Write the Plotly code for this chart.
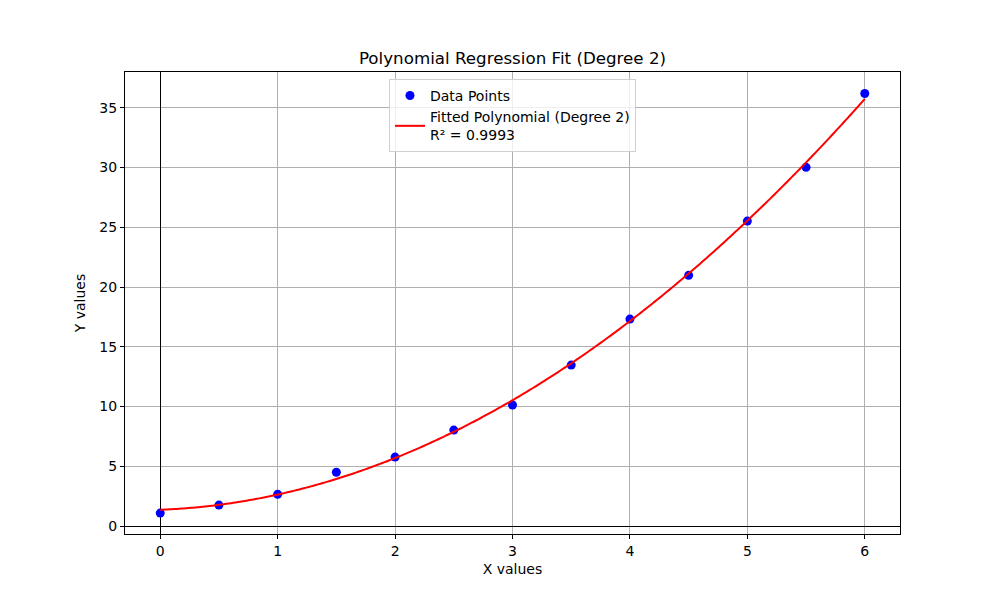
import numpy as np
import plotly.graph_objects as go

# data
x_values = [0, 0.5, 1, 1.5, 2, 2.5, 3, 3.5, 4, 4.5, 5, 5.5, 6]
y_values = [1.08, 1.75, 2.65, 4.5, 5.77, 8.03, 10.13, 13.47, 17.32, 20.98, 25.52, 30.02, 36.2]
r2_label = "R² = 0.9993"
x_ticks = [0, 1, 2, 3, 4, 5, 6]
y_ticks = [0, 5, 10, 15, 20, 25, 30, 35]

# degree 2 fit of the points
coeffs = np.polyfit(x_values, y_values, 2)
x_fit = np.linspace(min(x_values), max(x_values), 300)
y_fit = np.polyval(coeffs, x_fit)

FONT = "DejaVu Sans"
PAGE_OFFSET = 8  # browser body margin

fig = go.Figure()
fig.add_trace(go.Scatter(
  x=x_values, y=y_values, mode="markers", name="Data Points",
  marker=dict(color="blue", size=9, line=dict(width=0))
))
fig.add_trace(go.Scatter(
  x=x_fit, y=y_fit, mode="lines",
  name="Fitted Polynomial (Degree 2)<br>" + r2_label,
  line=dict(color="red", width=2, simplify=False)
))

axis_style = dict(
  showline=True, linecolor="black", linewidth=1, mirror=True,
  showgrid=True, gridcolor="#b0b0b0", gridwidth=1,
  ticks="outside", ticklen=4, tickcolor="black",
  zeroline=True, zerolinecolor="black", zerolinewidth=1,
  tickfont=dict(size=14, color="black"),
)

fig.update_layout(
  width=1000, height=600,
  margin=dict(l=125 - PAGE_OFFSET, r=100 + PAGE_OFFSET, t=72 - PAGE_OFFSET, b=66 + PAGE_OFFSET),
  paper_bgcolor="white", plot_bgcolor="white",
  font=dict(family=FONT, color="black"),
  title=dict(text="Polynomial Regression Fit (Degree 2)", x=(512.5 - PAGE_OFFSET) / 1000, xanchor="center",
             y=1 - (58 - PAGE_OFFSET) / 600, yref="container", yanchor="middle",
             font=dict(size=16.7, color="black")),
  xaxis=dict(axis_style, range=[-0.3, 6.3], tickvals=x_ticks,
             title=dict(text="X values", font=dict(size=14), standoff=6)),
  yaxis=dict(axis_style, range=[-0.67, 38.0], tickvals=y_ticks,
             title=dict(text="Y values", font=dict(size=14), standoff=10)),
  legend=dict(x=0.5, xanchor="center", y=0.985, yanchor="top",
              bgcolor="rgba(255,255,255,0.8)", bordercolor="#d0d0d0", borderwidth=1,
              font=dict(size=14, color="black")),
  showlegend=True,
)

fig.write_html("out.html")
